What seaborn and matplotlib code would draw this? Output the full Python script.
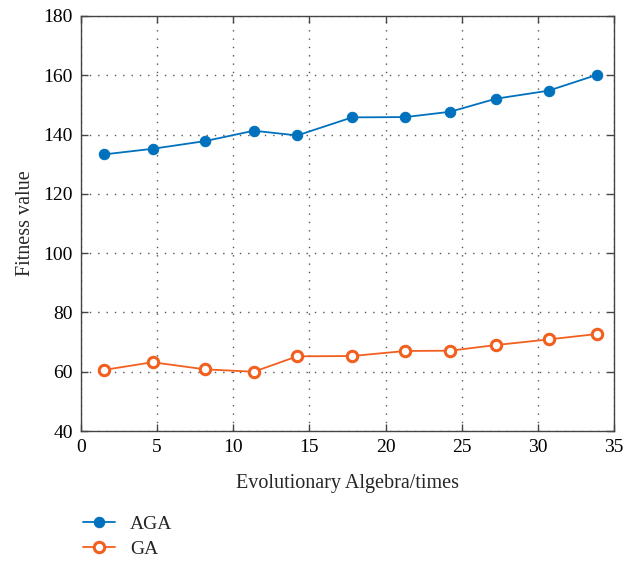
import matplotlib
matplotlib.use("Agg")
import matplotlib.pyplot as plt
import seaborn as sns
import pandas as pd

generations = [1.5, 4.7, 8.15, 11.35, 14.2, 17.8, 21.3, 24.25, 27.25, 30.7, 33.85]
aga_values = [133.3, 135.2, 137.8, 141.3, 139.7, 145.8, 145.9, 147.7, 152.1, 154.8, 160.1]
ga_values = [60.6, 63.2, 60.8, 60.0, 65.2, 65.3, 67.0, 67.1, 69.0, 70.9, 72.7]

sns.set_theme(style="white")
plt.rcParams['font.family'] = ['Liberation Serif', 'DejaVu Serif']

fig = plt.figure(figsize=(6.24, 5.61), dpi=100)
ax = fig.add_axes([0.1298, 0.2317, 0.8542, 0.7398])

df_aga = pd.DataFrame({"x": generations, "y": aga_values})
df_ga = pd.DataFrame({"x": generations, "y": ga_values})

sns.lineplot(data=df_aga, x="x", y="y", ax=ax, color="#0072BD", marker="o",
             markersize=7.5, markerfacecolor="#0072BD", markeredgecolor="#0072BD",
             linewidth=1.3, label="AGA")
sns.lineplot(data=df_ga, x="x", y="y", ax=ax, color="#F2601F", marker="o",
             markersize=7.5, markerfacecolor="white", markeredgecolor="#F2601F",
             markeredgewidth=2.2, linewidth=1.3, label="GA")

ax.set_xlim(0, 35)
ax.set_ylim(40, 180)
ax.set_xticks(range(0, 36, 5))
ax.set_yticks(range(40, 181, 20))
ax.grid(True, linestyle=(0, (1, 5)), color="#555555", linewidth=1.0)
for s in ax.spines.values():
    s.set_color("#444444")
    s.set_linewidth(1.0)
ax.tick_params(direction="in", length=5, width=1, color="#444444",
               top=True, right=True, labelsize=14, labelcolor="black",
               bottom=True, left=True, pad=6)
ax.set_xlabel("Evolutionary Algebra/times", fontsize=14.5, labelpad=13)
ax.set_ylabel("Fitness value", fontsize=14.5, labelpad=6)

ax.legend(loc="upper left", bbox_to_anchor=(-0.01, -0.185), frameon=False,
          fontsize=14, handlelength=1.6, handletextpad=0.8, labelspacing=0.38,
          borderaxespad=0)

fig.savefig("out.png", dpi=100)
